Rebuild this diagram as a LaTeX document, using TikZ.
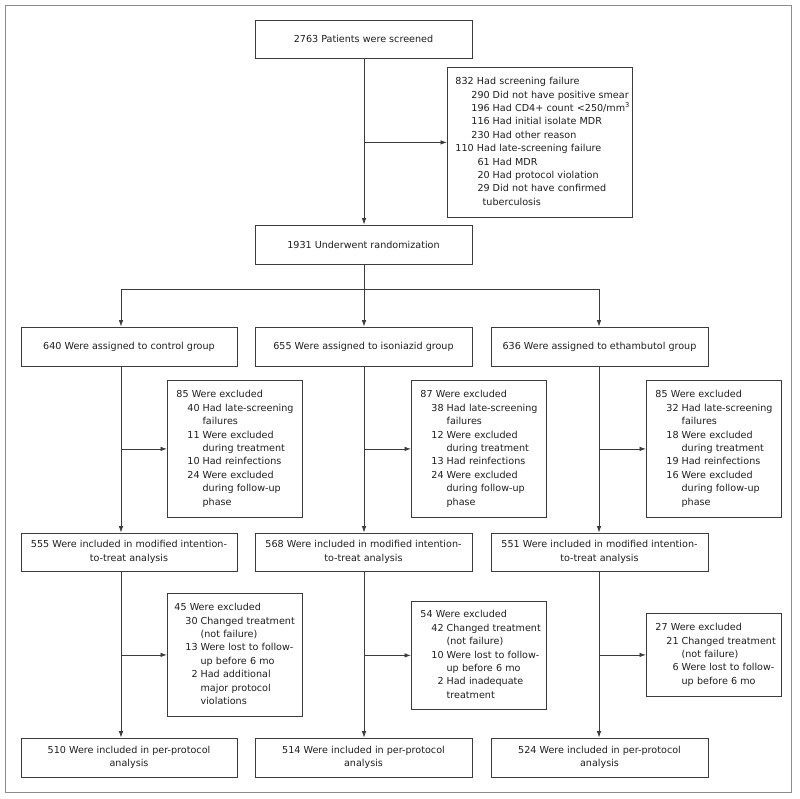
\documentclass[tikz,border=0pt]{standalone}
\usepackage{fontspec}
\setmainfont{DejaVu Sans}
\usetikzlibrary{arrows.meta}
\definecolor{boxline}{HTML}{3C3C3C}
\definecolor{framecol}{HTML}{8C8C8C}
\definecolor{txt}{HTML}{1E1E1E}
\newcommand{\hd}[1]{\multicolumn{2}{@{}l@{}}{#1}}
\newenvironment{itemsA}{\begin{tabular}{@{\hspace{11pt}}r@{\hspace{3pt}}l@{}}}{\end{tabular}}
\newenvironment{itemsB}{\begin{tabular}{@{\hspace{16pt}}r@{\hspace{3pt}}l@{}}}{\end{tabular}}
\begin{document}
\begin{tikzpicture}[x=1pt,y=-1pt,
  every node/.style={font=\fontsize{9.6pt}{13.4pt}\selectfont, text=txt},
  cbox/.style={draw=boxline, line width=0.8pt, inner sep=0pt, align=center, minimum height=39pt},
  lbox/.style={draw=boxline, line width=0.8pt, inner sep=0pt, anchor=north west, align=left},
  conn/.style={draw=boxline, line width=0.8pt},
  arr/.style={conn, -{Latex[length=6.5pt,width=4.5pt]}}
]
\useasboundingbox (0,0) rectangle (800,798);
\draw[framecol, line width=1pt] (5,5) rectangle (791,792);

% column coordinates
\coordinate (cL) at (121,0);
\coordinate (cM) at (364,0);
\coordinate (cR) at (599,0);
\coordinate (br) at (0,289);

% top part
\node[cbox, minimum width=217pt, minimum height=38pt] (top) at (363.5,39) {2763 Patients were screened};
\node[lbox, text width=185pt, minimum height=150pt] (side) at (447,67) {\hspace*{8pt}\begin{itemsB}
\hd{832 Had screening failure}\\
290 & Did not have positive smear\\
196 & Had CD4+ count <250/mm\textsuperscript{3}\\
116 & Had initial isolate MDR\\
230 & Had other reason\\
\hd{110 Had late-screening failure}\\
61 & Had MDR\\
20 & Had protocol violation\\
29 & Did not have confirmed\\
 & \hspace*{-10pt}tuberculosis
\end{itemsB}};
\node[cbox, minimum width=217pt] (rand) at (363.5,244.5) {1931 Underwent randomization};

% groups
\node[cbox, minimum width=216pt] (g1) at (129,346.5) {640 Were assigned to control group};
\node[cbox, minimum width=217pt] (g2) at (363.5,346.5) {655 Were assigned to isoniazid group};
\node[cbox, minimum width=217pt] (g3) at (599.5,346.5) {636 Were assigned to ethambutol group};

% first exclusions
\node[lbox, text width=135pt, minimum height=137pt] (e1L) at (167,380) {\hspace*{9pt}\begin{itemsA}
\hd{85 Were excluded}\\
40 & Had late-screening\\
 & failures\\
11 & Were excluded\\
 & during treatment\\
10 & Had reinfections\\
24 & Were excluded\\
 & during follow-up\\
 & phase
\end{itemsA}};
\node[lbox, text width=135pt, minimum height=137pt] (e1M) at (411,380) {\hspace*{9pt}\begin{itemsA}
\hd{87 Were excluded}\\
38 & Had late-screening\\
 & failures\\
12 & Were excluded\\
 & during treatment\\
13 & Had reinfections\\
24 & Were excluded\\
 & during follow-up\\
 & phase
\end{itemsA}};
\node[lbox, text width=135pt, minimum height=137pt] (e1R) at (646,380) {\hspace*{9pt}\begin{itemsA}
\hd{85 Were excluded}\\
32 & Had late-screening\\
 & failures\\
18 & Were excluded\\
 & during treatment\\
19 & Had reinfections\\
16 & Were excluded\\
 & during follow-up\\
 & phase
\end{itemsA}};

% ITT
\node[cbox, minimum width=216pt, minimum height=38pt] (i1) at (129,552) {555 Were included in modified intention-\\to-treat analysis};
\node[cbox, minimum width=217pt, minimum height=38pt] (i2) at (363.5,552) {568 Were included in modified intention-\\to-treat analysis};
\node[cbox, minimum width=217pt, minimum height=38pt] (i3) at (599.5,552) {551 Were included in modified intention-\\to-treat analysis};

% second exclusions
\node[lbox, text width=135pt, minimum height=123pt] (e2L) at (167,593) {\hspace*{7pt}\begin{itemsA}
\hd{45 Were excluded}\\
30 & Changed treatment\\
 & (not failure)\\
13 & Were lost to follow-\\
 & up before 6 mo\\
2 & Had additional\\
 & major protocol\\
 & violations
\end{itemsA}};
\node[lbox, text width=135pt, minimum height=108pt] (e2M) at (411,601) {\hspace*{9pt}\begin{itemsA}
\hd{54 Were excluded}\\
42 & Changed treatment\\
 & (not failure)\\
10 & Were lost to follow-\\
 & up before 6 mo\\
2 & Had inadequate\\
 & treatment
\end{itemsA}};
\node[lbox, text width=135pt, minimum height=83pt] (e2R) at (646,613) {\hspace*{9pt}\begin{itemsA}
\hd{27 Were excluded}\\
21 & Changed treatment\\
 & (not failure)\\
6 & Were lost to follow-\\
 & up before 6 mo
\end{itemsA}};

% per-protocol
\node[cbox, minimum width=216pt] (p1) at (129,757.5) {510 Were included in per-protocol\\analysis};
\node[cbox, minimum width=217pt] (p2) at (363.5,757.5) {514 Were included in per-protocol\\analysis};
\node[cbox, minimum width=217pt] (p3) at (599.5,757.5) {524 Were included in per-protocol\\analysis};

% connectors: top
\draw[arr] (top.south -| cM) -- (rand.north -| cM);
\draw[arr] (cM |- side.west) -- (side.west);

% branch
\draw[arr] (rand.south -| cM) -- (g2.north -| cM);
\draw[conn] (cL |- br) -- (cR |- br);
\draw[arr] (cL |- br) -- (g1.north -| cL);
\draw[arr] (cR |- br) -- (g3.north -| cR);

% columns
\draw[arr] (g1.south -| cL) -- (i1.north -| cL);
\draw[arr] (g2.south -| cM) -- (i2.north -| cM);
\draw[arr] (g3.south -| cR) -- (i3.north -| cR);
\draw[arr] (cL |- e1L.west) -- (e1L.west);
\draw[arr] (cM |- e1M.west) -- (e1M.west);
\draw[arr] (cR |- e1R.west) -- (e1R.west);

\draw[arr] (i1.south -| cL) -- (p1.north -| cL);
\draw[arr] (i2.south -| cM) -- (p2.north -| cM);
\draw[arr] (i3.south -| cR) -- (p3.north -| cR);
\draw[arr] (cL |- e2L.west) -- (e2L.west);
\draw[arr] (cM |- e2M.west) -- (e2M.west);
\draw[arr] (cR |- e2R.west) -- (e2R.west);
\end{tikzpicture}
\end{document}
